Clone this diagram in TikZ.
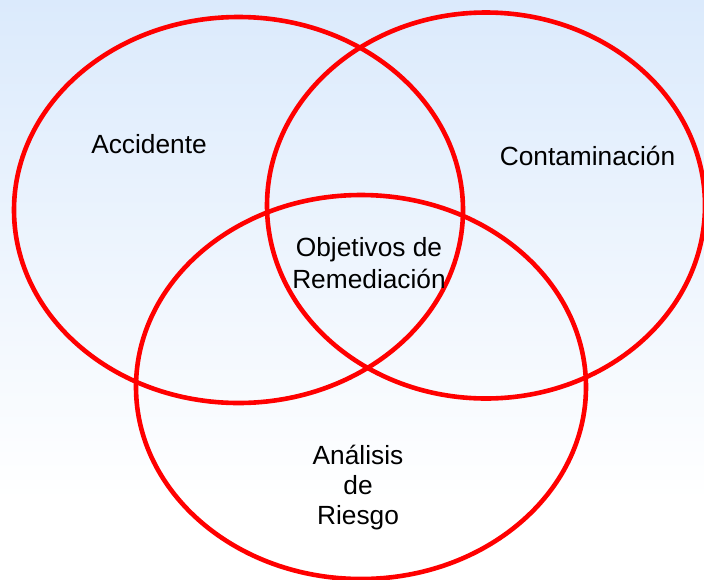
\documentclass[tikz,border=0pt]{standalone}
\usepackage{fontspec}
\setmainfont{Liberation Sans}
\definecolor{bgtop}{RGB}{219,234,252}
\definecolor{ringred}{RGB}{255,0,0}
\begin{document}
\begin{tikzpicture}[x=1pt,y=-1pt,
  ring/.style={draw=ringred,line width=4.6pt},
  lbl/.style={font=\fontsize{26.3}{31.6}\selectfont,inner sep=0pt,anchor=base,align=center,text=black}]
\useasboundingbox (0,0) rectangle (704,579);
\fill[top color=bgtop,bottom color=white] (0,0) rectangle (704,500);
\fill[white] (0,500) rectangle (704,579);
\draw[ring] (238.5,210) ellipse [x radius=224.5,y radius=193];
\draw[ring] (486,205.5) ellipse [x radius=219,y radius=193];
\draw[ring] (361,387) ellipse [x radius=225,y radius=192];
\node[lbl] (acc) at (149,153.3) {Accidente};
\node[lbl] (cont) at (587.5,165) {Contaminación};
\node[lbl] (obj) at (369,288.3) {Objetivos de\\Remediación};
\node[lbl,font=\fontsize{26.3}{30}\selectfont] (ana) at (358,524.3) {Análisis\\de\\Riesgo};
\end{tikzpicture}
\end{document}
